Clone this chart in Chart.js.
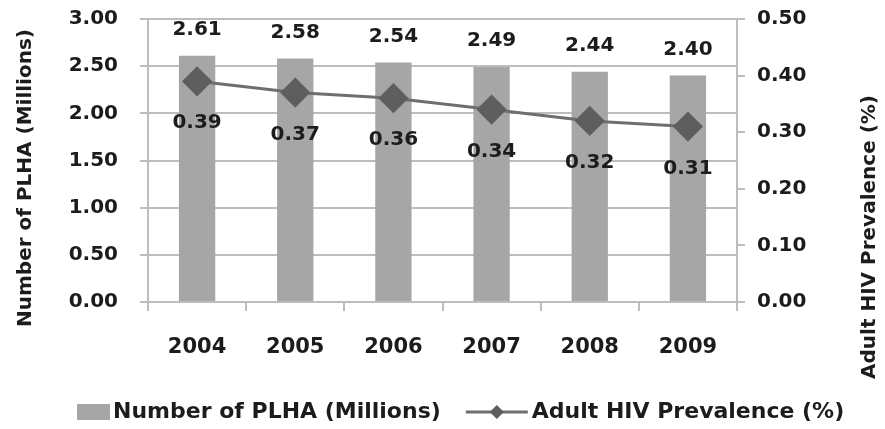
<!DOCTYPE html>
<html>
<head>
<meta charset="utf-8">
<script src="https://cdn.jsdelivr.net/npm/chart.js@4"></script>
<style>
  html, body { margin: 0; padding: 0; background: #fff; }
  #wrap { width: 885px; height: 429px; }
</style>
</head>
<body>
<div id="wrap"><canvas id="combo-chart"></canvas></div>
<script>
const years = ['2004', '2005', '2006', '2007', '2008', '2009'];
const plha = [2.61, 2.58, 2.54, 2.49, 2.44, 2.40];
const prevalence = [0.39, 0.37, 0.36, 0.34, 0.32, 0.31];
const plhaLabel = 'Number of PLHA (Millions)';
const prevLabel = 'Adult HIV Prevalence (%)';

const FONT = '"DejaVu Sans", sans-serif';
const TEXT = '#1c1c1c';
const BAR = '#a6a6a6';
const LINE = '#6e6e6e';
const MARKER = '#5e5e5e';
const AXIS = '#bdbdbd';

// value labels above bars and below line points, plus legend and axis titles
const extras = {
  id: 'extras',
  afterDatasetsDraw(chart) {
    const ctx = chart.ctx;
    ctx.save();
    ctx.fillStyle = TEXT;
    ctx.font = 'bold 20px ' + FONT;
    ctx.textAlign = 'center';
    ctx.textBaseline = 'middle';
    chart.getDatasetMeta(0).data.forEach((el, i) => {
      ctx.fillText(plha[i].toFixed(2), el.x, el.y - 26);
    });
    chart.getDatasetMeta(1).data.forEach((el, i) => {
      ctx.fillText(prevalence[i].toFixed(2), el.x, el.y + 42);
    });

    // axis titles, both reading bottom to top
    ctx.font = 'bold 20px ' + FONT;
    [[plhaLabel, 26, 178], [prevLabel, 870, 237]].forEach(([txt, tx, ty]) => {
      ctx.save();
      ctx.translate(tx, ty);
      ctx.rotate(-Math.PI / 2);
      ctx.fillText(txt, 0, 0);
      ctx.restore();
    });

    // legend
    const ly = 412;
    let x = 77;
    ctx.font = 'bold 22px ' + FONT;
    ctx.textAlign = 'left';
    ctx.fillStyle = BAR;
    ctx.fillRect(x, ly - 8, 33, 16);
    x += 36;
    ctx.fillStyle = TEXT;
    ctx.fillText(plhaLabel, x, ly);
    x += ctx.measureText(plhaLabel).width + 25;
    ctx.strokeStyle = LINE;
    ctx.lineWidth = 3;
    ctx.beginPath();
    ctx.moveTo(x, ly);
    ctx.lineTo(x + 62, ly);
    ctx.stroke();
    ctx.fillStyle = MARKER;
    ctx.beginPath();
    ctx.moveTo(x + 31, ly - 7);
    ctx.lineTo(x + 38, ly);
    ctx.lineTo(x + 31, ly + 7);
    ctx.lineTo(x + 24, ly);
    ctx.closePath();
    ctx.fill();
    x += 66;
    ctx.fillStyle = TEXT;
    ctx.fillText(prevLabel, x, ly);
    ctx.restore();
  }
};

// fixed axis width, and no extra room reserved for the end tick labels
const fitY = scale => {
  scale.width = 148;
  scale.paddingTop = 0;
  scale.paddingBottom = 0;
};

Chart.defaults.font.family = FONT;
Chart.defaults.color = TEXT;

new Chart(document.getElementById('combo-chart'), {
  type: 'bar',
  data: {
    labels: years,
    datasets: [{
      label: plhaLabel,
      data: plha,
      backgroundColor: BAR,
      barPercentage: 0.37,
      categoryPercentage: 1,
      yAxisID: 'y',
      order: 2
    }, {
      type: 'line',
      label: prevLabel,
      data: prevalence,
      borderColor: LINE,
      borderWidth: 3,
      pointStyle: 'rectRot',
      pointRadius: 13,
      pointBackgroundColor: MARKER,
      pointBorderColor: MARKER,
      yAxisID: 'y1',
      order: 1
    }]
  },
  options: {
    responsive: true,
    maintainAspectRatio: false,
    animation: false,
    layout: { padding: { top: 19, bottom: 42, left: 0, right: 0 } },
    plugins: {
      legend: { display: false },
      tooltip: { enabled: false }
    },
    scales: {
      x: {
        grid: { drawOnChartArea: false, color: AXIS, lineWidth: 2, tickLength: 9 },
        border: { color: AXIS, width: 2 },
        ticks: { font: { size: 21, weight: 'bold' }, padding: 24 },
        afterFit(scale) { scale.height = 85; }
      },
      y: {
        position: 'left',
        min: 0,
        max: 3,
        grid: { color: AXIS, lineWidth: 2, tickLength: 8 },
        border: { color: AXIS, width: 2 },
        ticks: {
          stepSize: 0.5,
          padding: 22,
          font: { size: 20, weight: 'bold' },
          callback: v => v.toFixed(2)
        },
        afterFit: fitY
      },
      y1: {
        position: 'right',
        min: 0,
        max: 0.5,
        grid: { drawOnChartArea: false, color: AXIS, lineWidth: 2, tickLength: 8 },
        border: { color: AXIS, width: 2 },
        ticks: {
          stepSize: 0.1,
          padding: 12,
          font: { size: 20, weight: 'bold' },
          callback: v => v.toFixed(2)
        },
        afterFit: fitY
      }
    }
  },
  plugins: [extras]
});
</script>
</body>
</html>
